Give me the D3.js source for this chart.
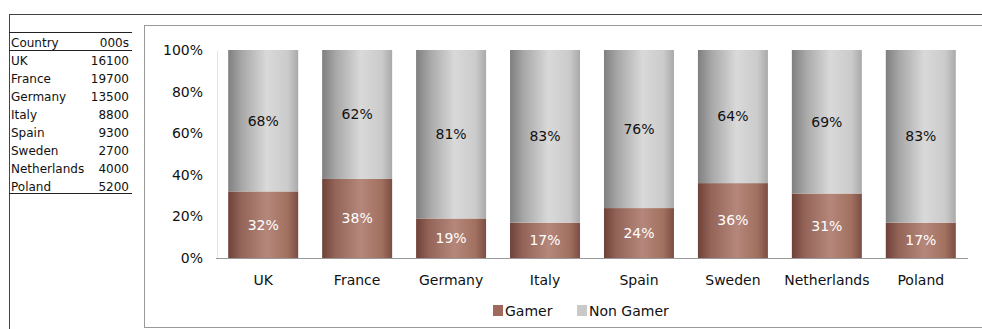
<!DOCTYPE html>
<html>
<head>
<meta charset="utf-8">
<script src="https://cdn.jsdelivr.net/npm/d3@7"></script>
<style>
  body { margin: 0; background: #fff; }
  svg { display: block; font-family: "DejaVu Sans", Verdana, sans-serif; }
</style>
</head>
<body>
<script>
// data
const countries = ['UK', 'France', 'Germany', 'Italy', 'Spain', 'Sweden', 'Netherlands', 'Poland'];
const players000s = [16100, 19700, 13500, 8800, 9300, 2700, 4000, 5200];
const gamerPct = [32, 38, 19, 17, 24, 36, 31, 17];
const nonGamerPct = [68, 62, 81, 83, 76, 64, 69, 83];
const yTicks = [0, 20, 40, 60, 80, 100];
const seriesNames = ['Gamer', 'Non Gamer'];

const width = 982;
const height = 329;

const svg = d3.select('body').append('svg').attr('width', width).attr('height', height);

// gradients for the cylinder-ish bars
const defs = svg.append('defs');
function grad(id, stops) {
  const g = defs.append('linearGradient').attr('id', id).attr('x1', '0%').attr('x2', '100%').attr('y1', '0%').attr('y2', '0%');
  stops.forEach(s => g.append('stop').attr('offset', s[0]).attr('stop-color', s[1]));
}
grad('gGamer', [['0%', '#6e4239'], ['18%', '#936357'], ['55%', '#b5877b'], ['85%', '#a1705f'], ['100%', '#7c4d43']]);
grad('gNon', [['0%', '#7f7f7f'], ['20%', '#a8a8a8'], ['55%', '#d9d9d9'], ['85%', '#cbcbcb'], ['100%', '#a9a9a9']]);

// outer frame
svg.append('line').attr('x1', 9).attr('x2', width).attr('y1', 14.5).attr('y2', 14.5).attr('stroke', '#444');
svg.append('line').attr('x1', 9.5).attr('x2', 9.5).attr('y1', 14).attr('y2', height).attr('stroke', '#444');

// chart box
svg.append('rect').attr('x', 144.5).attr('y', 25.5).attr('width', 850).attr('height', 302)
  .attr('fill', 'none').attr('stroke', '#999');

// table on the left
const tbl = svg.append('g').attr('font-size', 12).attr('fill', '#111');
const rowY = d3.scaleLinear().domain([0, 1]).range([47, 65]);
tbl.append('line').attr('x1', 9).attr('x2', 132).attr('y1', 32.5).attr('y2', 32.5).attr('stroke', '#222');
tbl.append('line').attr('x1', 9).attr('x2', 132).attr('y1', 50.5).attr('y2', 50.5).attr('stroke', '#222');
tbl.append('line').attr('x1', 9).attr('x2', 132).attr('y1', 193.5).attr('y2', 193.5).attr('stroke', '#222');
tbl.append('text').attr('x', 11).attr('y', rowY(0)).text('Country');
tbl.append('text').attr('x', 129).attr('y', rowY(0)).attr('text-anchor', 'end').text('000s');
countries.forEach((c, i) => {
  tbl.append('text').attr('x', 11).attr('y', rowY(i + 1)).text(c);
  tbl.append('text').attr('x', 129).attr('y', rowY(i + 1)).attr('text-anchor', 'end').text(players000s[i]);
});

// scales
const x = d3.scaleBand().domain(countries).range([216, 968]).paddingInner(0.255).paddingOuter(0.13);
const y = d3.scaleLinear().domain([0, 100]).range([258, 50]);

// y axis
const yAxis = svg.append('g').attr('transform', 'translate(217,0)')
  .call(d3.axisLeft(y).tickValues(yTicks).tickSize(0).tickPadding(14).tickFormat(d => d + '%'));
yAxis.select('.domain').attr('stroke', '#c8c8c8').attr('stroke-dasharray', '1,1');
yAxis.selectAll('text').attr('font-size', 14).attr('fill', '#111').attr('font-family', '"DejaVu Sans", sans-serif');

// stacked data
const rows = countries.map((c, i) => ({ country: c, Gamer: gamerPct[i], 'Non Gamer': nonGamerPct[i] }));
const stacked = d3.stack().keys(seriesNames)(rows);
const fills = { 'Gamer': 'url(#gGamer)', 'Non Gamer': 'url(#gNon)' };
const labelFill = { 'Gamer': '#fff', 'Non Gamer': '#111' };

const layers = svg.append('g').selectAll('g').data(stacked).join('g');
layers.selectAll('rect')
  .data(d => d.map(p => Object.assign(p, { key: d.key })))
  .join('rect')
  .attr('x', d => x(d.data.country))
  .attr('y', d => y(d[1]))
  .attr('width', x.bandwidth())
  .attr('height', d => y(d[0]) - y(d[1]))
  .attr('fill', d => fills[d.key]);

layers.selectAll('text')
  .data(d => d)
  .join('text')
  .attr('x', d => x(d.data.country) + x.bandwidth() / 2)
  .attr('y', d => (y(d[0]) + y(d[1])) / 2)
  .attr('dy', '0.35em')
  .attr('text-anchor', 'middle')
  .attr('font-size', 14)
  .attr('fill', d => labelFill[d.key])
  .text(d => (d[1] - d[0]) + '%');

// x axis (baseline)
const xAxis = svg.append('g').attr('transform', 'translate(0,258)')
  .call(d3.axisBottom(x).tickSize(0).tickPadding(17));
xAxis.select('.domain').attr('d', 'M216,0.5H968').attr('stroke', '#9a9a9a');
xAxis.selectAll('text').attr('font-size', 14).attr('fill', '#111').attr('font-family', '"DejaVu Sans", sans-serif');

// legend
const legend = svg.append('g').attr('font-size', 14).attr('fill', '#111');
const legX = [493, 577];
const legColors = ['#a0695d', '#c9c9c9'];
seriesNames.forEach((s, i) => {
  legend.append('rect').attr('x', legX[i]).attr('y', 305).attr('width', 10).attr('height', 11).attr('fill', legColors[i]);
  legend.append('text').attr('x', legX[i] + 12).attr('y', 311).attr('dy', '0.35em').text(s);
});
</script>
</body>
</html>
